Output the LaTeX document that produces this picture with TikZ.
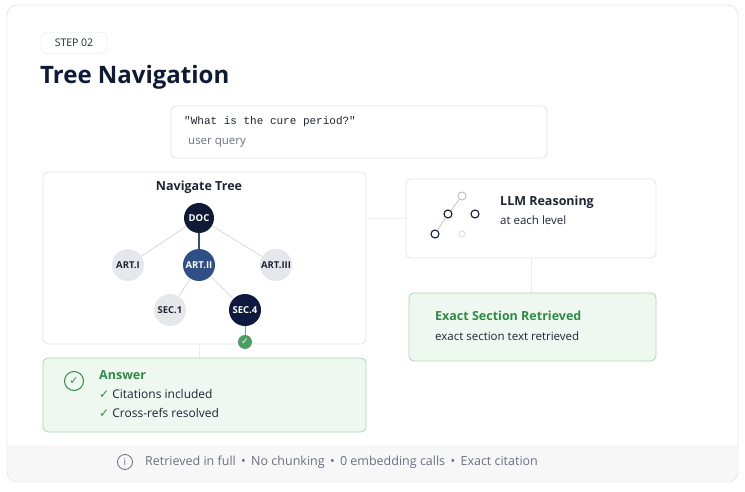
\documentclass[tikz,border=0pt]{standalone}
\usepackage{fontspec}
\setmainfont{Open Sans}
\newfontfamily\sym{DejaVu Sans}
\newfontfamily\monof{Liberation Mono}
\definecolor{navy}{HTML}{0F1A36}
\definecolor{blueN}{HTML}{2F4F86}
\definecolor{lgray}{HTML}{E6E7EB}
\definecolor{bord}{HTML}{E2E4E8}
\definecolor{gfill}{HTML}{EFF8F0}
\definecolor{gbord}{HTML}{A8D8B0}
\definecolor{gtext}{HTML}{2E8B45}
\definecolor{txt}{HTML}{1E2433}
\definecolor{muted}{HTML}{6B7080}
\tikzset{
 card/.style={draw=bord,fill=white,rounded corners=5pt,line width=0.8pt},
 gcard/.style={draw=gbord,fill=gfill,rounded corners=5pt,line width=0.8pt},
 tn/.style={circle,minimum size=32pt,inner sep=0pt,font=\fontsize{9.5}{10}\selectfont\bfseries},
 lightn/.style={tn,fill=lgray,text=txt},
 darkn/.style={tn,fill=navy,text=white},
 edgeL/.style={draw=black!15,line width=0.8pt},
 ic/.style={circle,draw=navy,line width=1.1pt,minimum size=8pt,inner sep=0pt,fill=white},
 icl/.style={circle,draw=black!25,line width=1pt,minimum size=8pt,inner sep=0pt,fill=white},
 body/.style={font=\fontsize{12.5}{14}\selectfont,text=txt,anchor=west,inner sep=0pt},
}
\begin{document}
\begin{tikzpicture}[x=1pt,y=-1pt]
\useasboundingbox (0,0) rectangle (745,492);
\fill[white] (0,0) rectangle (745,492);
\draw[bord,fill=white,rounded corners=10pt] (7,5) rectangle (738,482);
\begin{scope}
\clip[rounded corners=10pt] (7,5) rectangle (738,482);
\fill[black!3] (7,445) rectangle (738,482);
\end{scope}
\draw[bord,rounded corners=10pt] (7,5) rectangle (738,482);
% header
\node[draw=bord,rounded corners=6pt,minimum width=66pt,minimum height=21pt,font=\fontsize{10.5}{11}\selectfont,text=txt] (step) at (74,43) {STEP 02};
\node[anchor=west,inner sep=0pt,font=\fontsize{24}{26}\selectfont\bfseries,text=navy] (title) at (40,77) {Tree Navigation};
% query
\draw[card] (171,106) rectangle (547,158);
\node[body,font=\monof\fontsize{11}{13}\selectfont] (q) at (184,122) {"What is the cure period?"};
\node[body,text=muted,font=\fontsize{11.5}{13}\selectfont] (uq) at (188,143) {user query};
% connectors between cards
\coordinate (c1) at (366,218); \coordinate (c2) at (406,218);
\draw[black!7,line width=0.8pt] (c1) -- (c2);
\coordinate (c3) at (531,258); \coordinate (c4) at (531,293);
\draw[black!7,line width=0.8pt] (c3) -- (c4);
\coordinate (c5) at (199,344); \coordinate (c6) at (199,358);
\draw[black!7,line width=0.8pt] (c5) -- (c6);
% navigate tree
\draw[card] (43,172) rectangle (366,344);
\node[font=\fontsize{12.5}{14}\selectfont\bfseries,text=txt] (nt) at (199,187) {Navigate Tree};
\node[darkn,minimum size=30pt] (doc) at (199,218) {DOC};
\node[tn,fill=blueN,text=white] (a2) at (199,265) {ART.II};
\node[lightn] (a1) at (128,265) {ART.I};
\node[lightn] (a3) at (276,265) {ART.III};
\node[lightn] (s1) at (170,310) {SEC.1};
\node[darkn,fill=navy!95!blue] (s4) at (245,310) {SEC.4};
\draw[edgeL] (doc) -- (a1); \draw[edgeL] (doc) -- (a3);
\draw[blueN,line width=1.2pt] (doc) -- (a2);
\draw[edgeL] (a2) -- (s1); \draw[edgeL] (a2) -- (s4);
\node[circle,fill=gtext!85,minimum size=14pt,inner sep=0pt,text=white,font=\sym\fontsize{9}{9}\selectfont\bfseries] (ok) at (245,342) {✓};
\draw[gtext!70,line width=0.8pt] (s4) -- (ok);
% LLM
\draw[card] (406,179) rectangle (656,258);
\node[icl] (i1) at (462,196) {};
\node[ic] (i2) at (448,214) {};
\node[ic] (i3) at (475,214) {};
\node[ic] (i4) at (435,234) {};
\node[icl,draw=black!12,minimum size=6pt] (i5) at (462,234) {};
\draw[black!25,line width=0.7pt] (i1) -- (i2); \draw[black!25,line width=0.7pt] (i2) -- (i4);
\node[body,font=\fontsize{12.5}{14}\selectfont\bfseries] (llm) at (500,202) {LLM Reasoning};
\node[body,font=\fontsize{11.5}{13}\selectfont] (lvl) at (500,220) {at each level};
% exact
\draw[gcard] (409,293) rectangle (656,361);
\node[body,font=\fontsize{12.5}{14}\selectfont\bfseries,text=gtext] (ex) at (435,316) {Exact Section Retrieved};
\node[body,font=\fontsize{11.5}{13}\selectfont] (ext) at (435,336) {exact section text retrieved};
% answer
\draw[gcard] (43,358) rectangle (366,432);
\node[circle,draw=gtext,line width=1pt,minimum size=19pt,inner sep=0pt,text=gtext,font=\sym\fontsize{11}{11}\selectfont] (ac) at (74,381) {✓};
\node[body,font=\fontsize{12.5}{14}\selectfont\bfseries,text=gtext] (ans) at (99,375) {Answer};
\node[body,font=\fontsize{12}{14}\selectfont] (ci) at (99,394) {{\sym\color{gtext}✓} Citations included};
\node[body,font=\fontsize{12}{14}\selectfont] (cr) at (99,413) {{\sym\color{gtext}✓} Cross-refs resolved};
% footer
\node[circle,draw=muted,line width=0.8pt,minimum size=15pt,inner sep=0pt,text=muted,font=\fontsize{10}{10}\selectfont] (info) at (125,462) {i};
\node[body,text=muted,font=\fontsize{12.5}{14}\selectfont] (ft) at (145,462) {Retrieved in full \,•\, No chunking \,•\, 0 embedding calls \,•\, Exact citation};
\end{tikzpicture}
\end{document}
